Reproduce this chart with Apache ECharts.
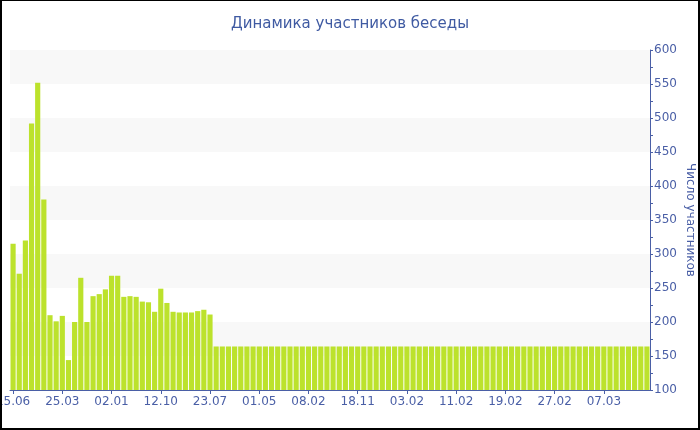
<!DOCTYPE html>
<html>
<head>
<meta charset="utf-8">
<script src="https://cdn.jsdelivr.net/npm/echarts@6/dist/echarts.min.js"></script>
<style>
html,body{margin:0;padding:0;background:#fff;}
#chart{width:700px;height:430px;}
</style>
</head>
<body>
<div id="chart"></div>
<script>
const titleText = 'Динамика участников беседы';
const yAxisName = 'Число участников';
const tickLabels = ['15.06','25.03','02.01','12.10','23.07','01.05','08.02','18.11','03.02','11.02','19.02','27.02','07.03'];
const values = [
  315,271,320,492,552,380,210,201,209,144,
  200,265,200,238,241,248,268,268,237,238,
  237,230,229,215,249,228,215,214,214,214,
  216,218,211,164,164,164,164,164,164,164,
  164,164,164,164,164,164,164,164,164,164,
  164,164,164,164,164,164,164,164,164,164,
  164,164,164,164,164,164,164,164,164,164,
  164,164,164,164,164,164,164,164,164,164,
  164,164,164,164,164,164,164,164,164,164,
  164,164,164,164,164,164,164,164,164,164,
  164,164,164,164
];
const labelStep = 8;
const categories = values.map((v, i) => (i % labelStep === 0 ? tickLabels[i / labelStep] : ''));

const blue = '#4a5fa6';
const chart = echarts.init(document.getElementById('chart'));
chart.setOption({
  animation: false,
  backgroundColor: '#fff',
  textStyle: { fontFamily: 'DejaVu Sans' },
  title: {
    text: titleText,
    left: 'center',
    top: 12,
    textStyle: { color: '#3f5aa2', fontSize: 15, fontWeight: 'normal', fontFamily: 'DejaVu Sans' }
  },
  grid: { left: 10, right: 50, top: 50, bottom: 40, containLabel: false, outerBoundsMode: 'none' },
  xAxis: {
    type: 'category',
    data: categories,
    axisLine: { lineStyle: { color: blue, width: 1 } },
    axisTick: { show: true, interval: labelStep - 1, alignWithLabel: true, length: 4, lineStyle: { color: blue } },
    axisLabel: { interval: labelStep - 1, color: blue, fontSize: 12, margin: 6, fontFamily: 'DejaVu Sans', hideOverlap: false },
    splitLine: { show: false }
  },
  yAxis: {
    type: 'value',
    position: 'right',
    min: 100,
    max: 600,
    interval: 50,
    name: yAxisName,
    nameLocation: 'middle',
    nameRotate: -90,
    nameGap: 34,
    nameMoveOverlap: false,
    nameTextStyle: { color: blue, fontSize: 12, fontFamily: 'DejaVu Sans' },
    axisLine: { show: true, lineStyle: { color: blue, width: 1 } },
    axisTick: { show: true, length: 3, lineStyle: { color: blue } },
    minorTick: { show: true, splitNumber: 2, length: 3, lineStyle: { color: blue } },
    axisLabel: { color: blue, fontSize: 12, margin: 4, fontFamily: 'DejaVu Sans' },
    splitLine: { show: false },
    splitArea: { show: true, areaStyle: { color: ['#ffffff', '#f8f8f8'] } }
  },
  series: [{
    type: 'bar',
    data: values,
    barCategoryGap: '16%',
    itemStyle: { color: '#bce22c' }
  }],
  graphic: [{
    type: 'rect',
    silent: true,
    z: 100,
    shape: { x: 1, y: 0, width: 698, height: 429 },
    style: { fill: 'none', stroke: '#000', lineWidth: 2 }
  }]
});
</script>
</body>
</html>
